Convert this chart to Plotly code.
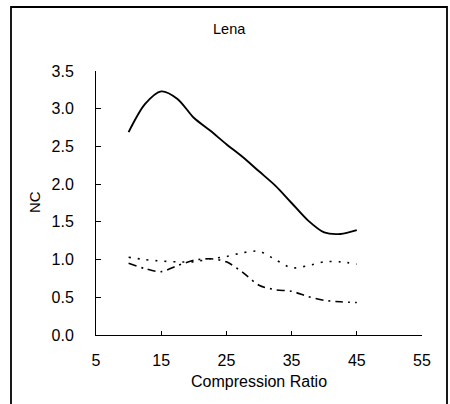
import plotly.graph_objects as go

# Data
compression_ratio = [10, 12.5, 15, 17.5, 20, 22.5, 25, 27.5, 30, 32.5, 35, 37.5, 40, 42.5, 45]
nc_solid = [2.69, 3.06, 3.23, 3.13, 2.88, 2.71, 2.53, 2.36, 2.17, 1.98, 1.75, 1.52, 1.36, 1.34, 1.39]
nc_dotted = [1.03, 1.00, 0.98, 0.97, 0.97, 1.01, 1.04, 1.09, 1.11, 1.00, 0.89, 0.92, 0.97, 0.97, 0.94]
nc_dashdot = [0.95, 0.88, 0.84, 0.92, 0.99, 1.01, 0.97, 0.83, 0.66, 0.60, 0.58, 0.51, 0.46, 0.44, 0.43]

x_ticks = [5, 15, 25, 35, 45, 55]
y_ticks = [0.0, 0.5, 1.0, 1.5, 2.0, 2.5, 3.0, 3.5]
y_tick_labels = ["0.0", "0.5", "1.0", "1.5", "2.0", "2.5", "3.0", "3.5"]

FONT = "Arial, Liberation Sans, sans-serif"

fig = go.Figure()
fig.add_trace(go.Scatter(x=compression_ratio, y=nc_solid, mode="lines",
                         line=dict(color="black", width=1.9, shape="spline", smoothing=0.8)))
fig.add_trace(go.Scatter(x=compression_ratio, y=nc_dotted, mode="lines",
                         line=dict(color="black", width=1.6, dash="2px,7px", shape="spline", smoothing=0.8)))
fig.add_trace(go.Scatter(x=compression_ratio, y=nc_dashdot, mode="lines",
                         line=dict(color="black", width=1.6, dash="8px,5px,2px,5px", shape="spline", smoothing=0.8)))

W, H = 450, 404
L, T = 96, 71
R = W - 422
B = H - 335
pw, ph = W - L - R, H - T - B

def px_to_paper_x(px):
    return (px - L) / pw

def px_to_paper_y(py):
    return (H - B - py) / ph

fig.update_layout(
    width=W, height=H,
    margin=dict(l=L, r=R, t=T, b=B),
    paper_bgcolor="white", plot_bgcolor="white",
    showlegend=False,
    font=dict(family=FONT, color="black", size=16),
    xaxis=dict(range=[5, 55], tickvals=x_ticks, ticks="inside", ticklen=4, tickcolor="black",
               showline=True, linecolor="black", linewidth=1, showgrid=False, zeroline=False,
               tickfont=dict(size=16, family=FONT), ticklabelstandoff=11),
    yaxis=dict(range=[0, 3.5], tickvals=y_ticks, ticktext=y_tick_labels, ticks="inside", ticklen=5,
               tickcolor="black", showline=True, linecolor="black", linewidth=1, showgrid=False,
               zeroline=False, tickfont=dict(size=16, family=FONT), ticklabelstandoff=18),
    shapes=[dict(type="rect", xref="paper", yref="paper",
                 x0=px_to_paper_x(11), x1=px_to_paper_x(447),
                 y0=px_to_paper_y(420), y1=px_to_paper_y(7),
                 line=dict(color="black", width=1.8), fillcolor="rgba(0,0,0,0)", layer="above")],
    annotations=[
        dict(text="Lena", xref="paper", yref="paper", x=px_to_paper_x(229), y=px_to_paper_y(29),
             showarrow=False, xanchor="center", yanchor="middle", font=dict(size=14.5, family=FONT)),
        dict(text="Compression Ratio", xref="paper", yref="paper", x=px_to_paper_x(259), y=px_to_paper_y(381),
             showarrow=False, xanchor="center", yanchor="middle", font=dict(size=16, family=FONT)),
        dict(text="NC", xref="paper", yref="paper", x=px_to_paper_x(34), y=px_to_paper_y(202),
             showarrow=False, xanchor="center", yanchor="middle", textangle=-90, font=dict(size=15, family=FONT)),
    ],
)

fig.write_html("out.html",
               post_script="document.body.style.margin='0';document.body.style.overflow='hidden';",
               config={"displayModeBar": False})
